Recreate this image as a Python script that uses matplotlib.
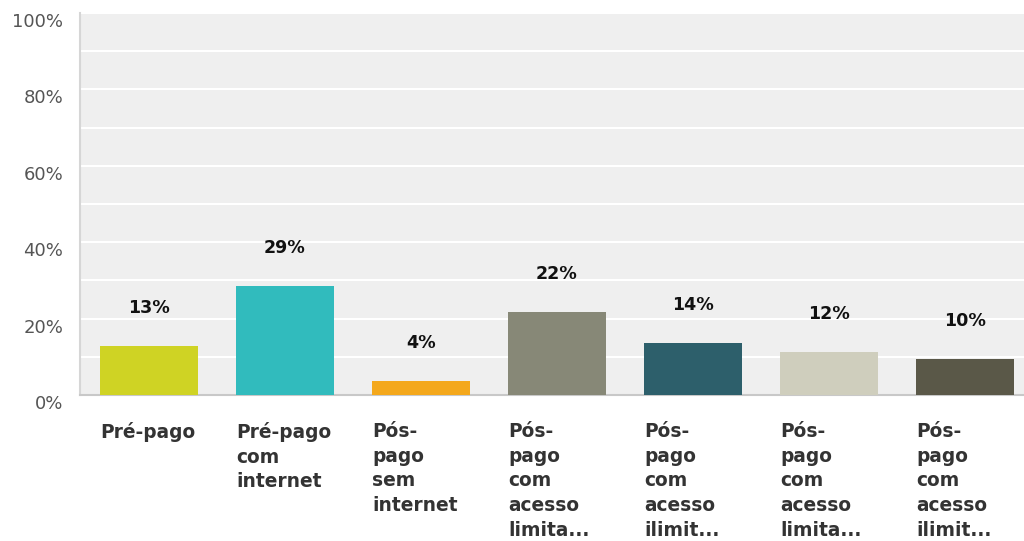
import matplotlib
matplotlib.use("Agg")
import matplotlib.pyplot as plt
from matplotlib.ticker import MultipleLocator, FuncFormatter
from matplotlib.transforms import ScaledTranslation

categories = ["Pré-pago", "Pré-pago\ncom\ninternet", "Pós-\npago\nsem\ninternet",
              "Pós-\npago\ncom\nacesso\nlimita...", "Pós-\npago\ncom\nacesso\nilimit...",
              "Pós-\npago\ncom\nacesso\nlimita...", "Pós-\npago\ncom\nacesso\nilimit..."]
values = [12.7, 28.6, 3.7, 21.6, 13.6, 11.3, 9.3]
value_labels = ["13%", "29%", "4%", "22%", "14%", "12%", "10%"]
colors = ["#cfd324", "#31bbbd", "#f4a81c", "#878877", "#2d5f6b", "#cfcebd", "#5a5848"]

plt.rcParams['font.family'] = ['DejaVu Sans']

fig = plt.figure(figsize=(10.24, 5.41), dpi=100)
ax = fig.add_axes([80/1024, 146/541, 944/1024, 382/541])
ax.set_facecolor("#efefef")

bw = 0.72
x = list(range(len(categories)))
bars = ax.bar(x, values, width=bw, color=colors, zorder=3)

for xi, v, lab in zip(x, values, value_labels):
    ax.annotate(lab, (xi, v), xytext=(0, 27.5), textcoords="offset points",
                ha="center", va="center", fontsize=12.6, fontweight="bold",
                color="#111111", zorder=4)

ax.set_xlim(-0.507, 6.434)
ax.set_ylim(0, 100)
ax.yaxis.set_major_locator(MultipleLocator(20))
ax.yaxis.set_minor_locator(MultipleLocator(10))
ax.yaxis.set_major_formatter(FuncFormatter(lambda v, p: f"{int(v)}%"))
ax.grid(axis="y", which="both", color="white", linewidth=1.5, zorder=1)
ax.tick_params(axis="y", which="both", length=0, pad=12, labelsize=13, labelcolor="#555555")
for lab in ax.get_yticklabels():
    lab.set_transform(lab.get_transform() + ScaledTranslation(0, -7/100, fig.dpi_scale_trans))

ax.set_xticks([xi - bw/2 for xi in x])
ax.set_xticklabels(categories, ha="left", va="top", fontsize=13.4, fontweight="bold",
                   color="#333333", linespacing=1.38)
ax.tick_params(axis="x", length=0, pad=19.5)

for s in ["top", "right"]:
    ax.spines[s].set_visible(False)
ax.spines["left"].set_color("#d6d6d6")
ax.spines["left"].set_linewidth(1.5)
ax.spines["bottom"].set_color("#c8c8c8")
ax.spines["bottom"].set_linewidth(1.5)

fig.savefig("out.png", dpi=100)
